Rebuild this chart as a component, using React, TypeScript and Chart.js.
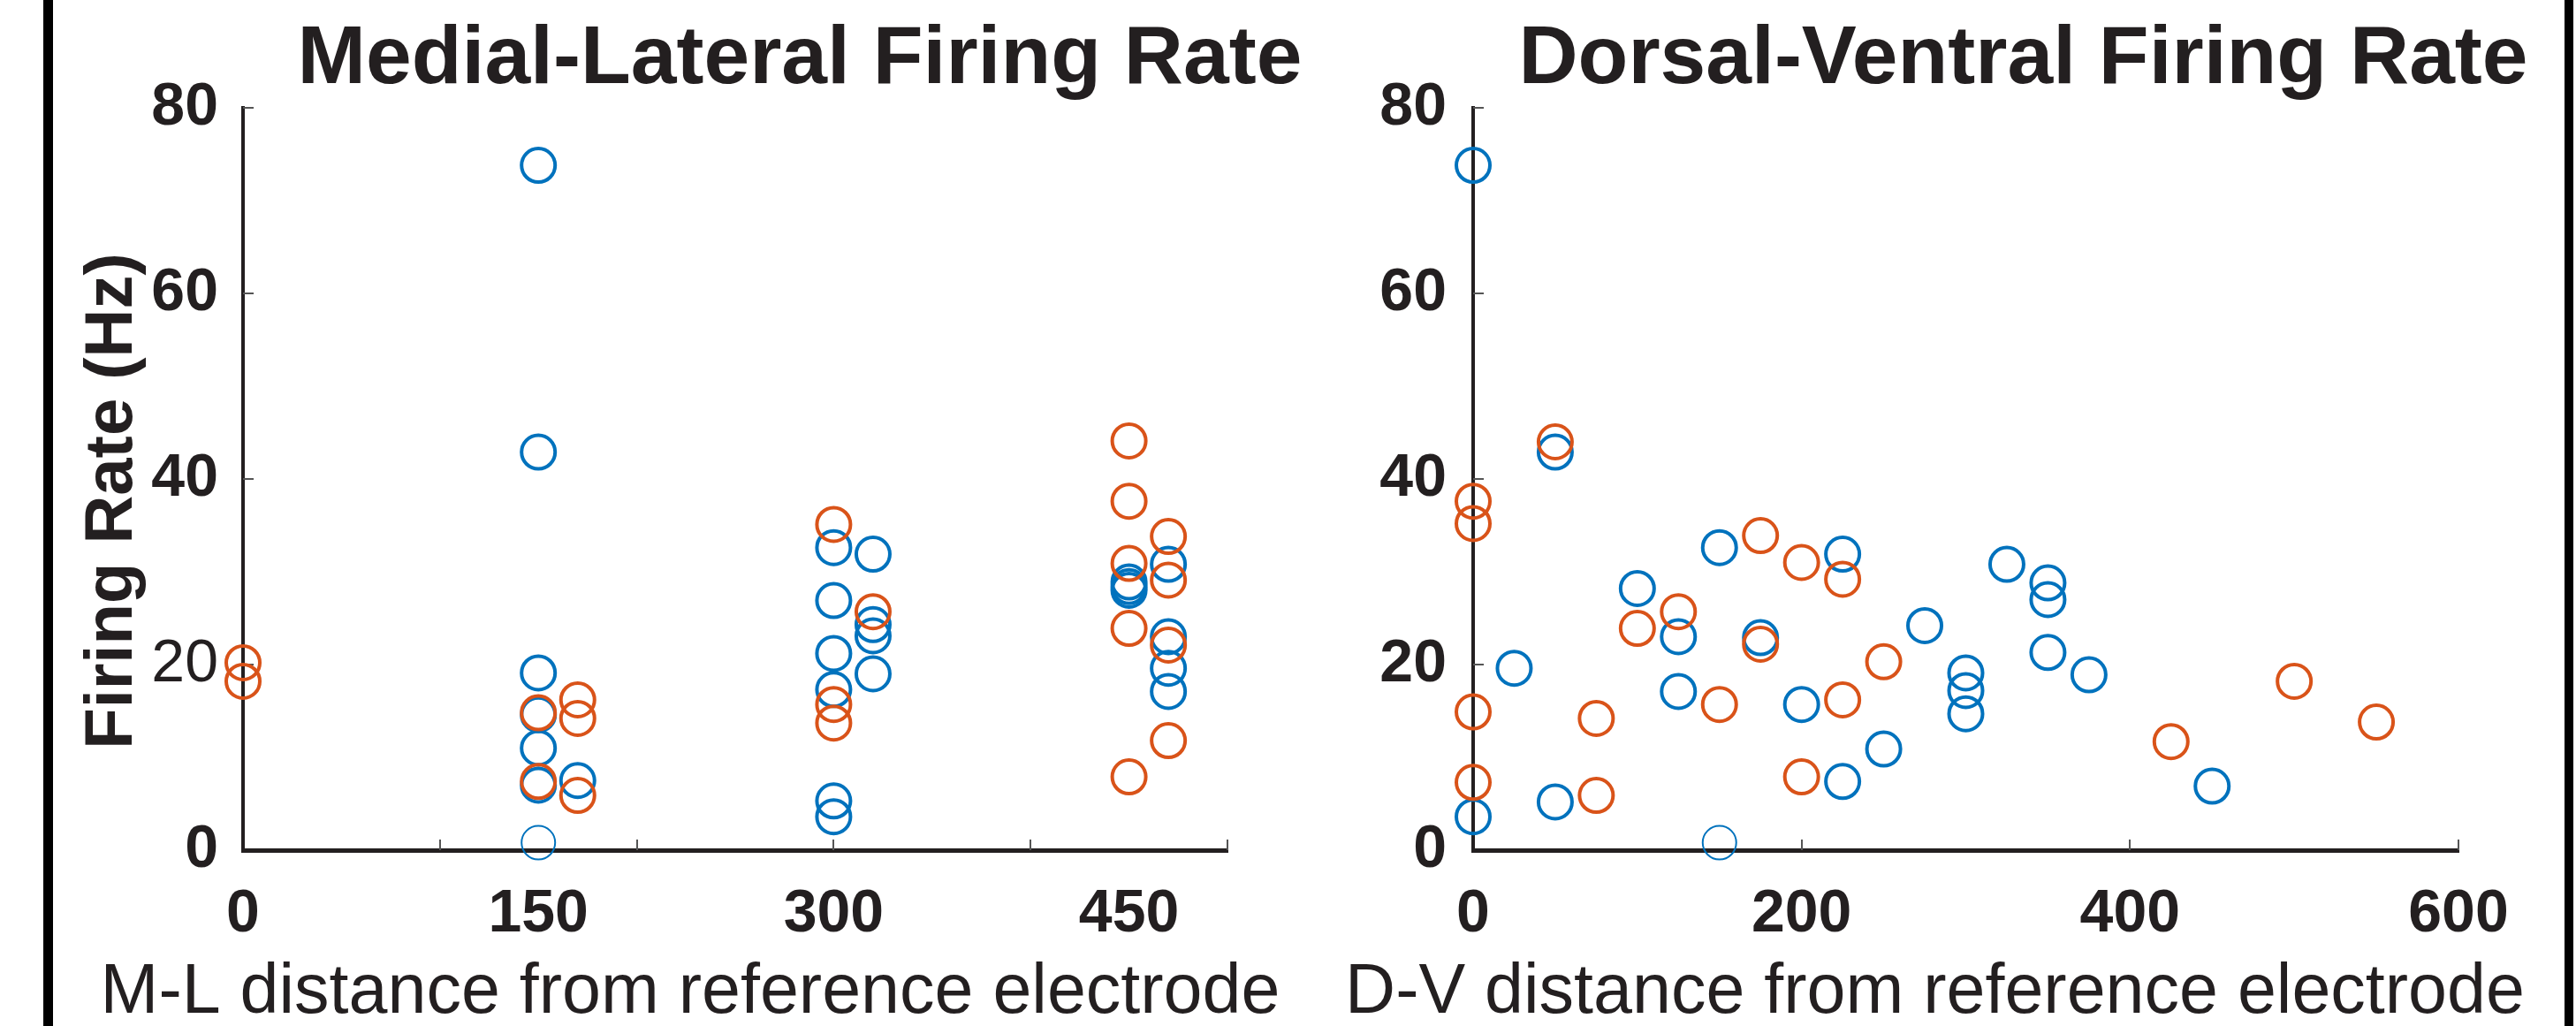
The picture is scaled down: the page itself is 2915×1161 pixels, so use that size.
import React, { useEffect, useRef } from 'react';
import { Chart, registerables } from 'chart.js';

Chart.register(...registerables);

// ---------- data ----------
// Medial-Lateral panel
const mlTickLabels = [0, 150, 300, 450];
const mlTickMarks = [100, 200, 300, 400, 500];
const mlBlueX = [150, 150, 150, 150, 150, 150, 150, 170, 300, 300, 300, 300, 300, 300, 320, 320, 320, 320, 450, 450, 450, 470, 470, 470, 470];
const mlBlueY = [73.8, 42.9, 19.1, 14.6, 11.0, 7.0, 0.8, 7.5, 32.6, 26.9, 21.2, 17.3, 5.3, 3.6, 31.9, 24.3, 23.1, 19.0, 28.9, 28.4, 28.0, 30.8, 23.0, 19.6, 17.1];
const mlOrangeX = [0, 0, 150, 150, 170, 170, 170, 300, 300, 300, 320, 450, 450, 450, 450, 450, 470, 470, 470, 470];
const mlOrangeY = [20.2, 18.2, 14.8, 7.4, 16.2, 14.2, 5.9, 35.1, 15.7, 13.7, 25.7, 44.1, 37.6, 30.9, 23.9, 7.9, 33.8, 29.1, 22.1, 11.8];

// Dorsal-Ventral panel
const dvTickLabels = [0, 200, 400, 600];
const dvTickMarks = [200, 400, 600];
const dvBlueX = [0, 50, 150, 225, 325, 350, 350, 100, 125, 175, 275, 350, 25, 375, 300, 300, 300, 125, 200, 250, 225, 450, 50, 0, 150];
const dvBlueY = [73.8, 42.9, 32.6, 31.9, 30.8, 28.8, 27.0, 28.2, 23.0, 22.9, 24.2, 21.3, 19.6, 18.9, 19.1, 17.2, 14.7, 17.1, 15.7, 10.9, 7.4, 6.9, 5.2, 3.6, 0.8];
const dvOrangeX = [0, 0, 50, 175, 200, 225, 125, 100, 175, 250, 500, 150, 225, 0, 75, 550, 425, 200, 0, 75];
const dvOrangeY = [37.6, 35.2, 44.0, 33.9, 31.0, 29.2, 25.7, 23.9, 22.2, 20.3, 18.2, 15.7, 16.2, 14.9, 14.2, 13.8, 11.7, 7.9, 7.3, 5.9];

const yTickMarks = [20, 40, 60, 80];

const mlTitle = 'Medial-Lateral Firing Rate';
const dvTitle = 'Dorsal-Ventral Firing Rate';
const mlXTitle = 'M-L distance from reference electrode';
const dvXTitle = 'D-V distance from reference electrode';
const yTitle = 'Firing Rate (Hz)';

// ---------- style ----------
const FAMILY = '"Liberation Sans", Arial, Helvetica, sans-serif';
const BLUE = '#0072BD';
const ORANGE = '#D95319';
const INK = '#231F20';

function points(xs: number[], ys: number[]) {
  return xs.map((x, i) => ({ x, y: ys[i] }));
}

const panelDecor = {
  id: 'panelDecor',
  beforeDatasetsDraw(chart: any, _args: any, o: any) {
    const { ctx, chartArea: a, scales } = chart;
    ctx.save();
    ctx.strokeStyle = o.markColor;
    ctx.lineWidth = 2;
    for (const v of o.xMarks) {
      const px = Math.round(scales.x.getPixelForValue(v));
      ctx.beginPath();
      ctx.moveTo(px, a.bottom);
      ctx.lineTo(px, a.bottom - o.markLen);
      ctx.stroke();
    }
    for (const v of o.yMarks) {
      const py = Math.round(scales.y.getPixelForValue(v));
      ctx.beginPath();
      ctx.moveTo(a.left, py);
      ctx.lineTo(a.left + o.markLen, py);
      ctx.stroke();
    }
    ctx.restore();
  },
  afterDraw(chart: any, _args: any, o: any) {
    const { ctx, chartArea: a } = chart;
    const cx = (a.left + a.right) / 2;
    ctx.save();
    ctx.fillStyle = INK;
    ctx.textAlign = 'center';
    ctx.textBaseline = 'alphabetic';
    ctx.font = `bold 93px ${FAMILY}`;
    ctx.fillText(o.title, cx + o.titleDx, o.titleBaseline);
    ctx.font = `79px ${FAMILY}`;
    ctx.fillText(o.xTitle, cx + o.xTitleDx, o.xTitleBaseline);
    if (o.yTitle) {
      ctx.translate(a.left + o.yTitleDx, (a.top + a.bottom) / 2 + o.yTitleDy);
      ctx.rotate(-Math.PI / 2);
      ctx.font = `bold 76px ${FAMILY}`;
      ctx.fillText(o.yTitle, 0, 0);
    }
    ctx.restore();
  },
};

type Panel = {
  blueX: number[]; blueY: number[]; orangeX: number[]; orangeY: number[];
  xMax: number; xTickLabels: number[]; xTickMarks: number[];
  padding: { left: number; right: number; top: number; bottom: number };
  yAxisWidth: number; yPad: number; lightTicks: number[];
  title: string; titleDx: number; xTitle: string; xTitleDx: number; yTitle: string | null;
};

function dataset(label: string, xs: number[], ys: number[], color: string) {
  return {
    label,
    data: points(xs, ys),
    borderColor: color,
    backgroundColor: 'rgba(0,0,0,0)',
    pointStyle: 'circle',
    pointRadius: 19,
    pointHoverRadius: 19,
    pointBackgroundColor: 'rgba(0,0,0,0)',
    pointBorderColor: color,
    pointBorderWidth: (c: any) => (c.raw && c.raw.y < 1 ? 2 : 4),
    pointHoverBorderWidth: 4,
    showLine: false,
    clip: false,
  };
}

function buildChart(canvas: HTMLCanvasElement, p: Panel) {
  const tickFont = (c: any) => ({
    family: FAMILY,
    size: 68,
    weight: c.tick && p.lightTicks.includes(c.tick.value) ? 'normal' : 'bold',
  });
  return new Chart(canvas, {
    type: 'scatter',
    data: {
      datasets: [
        dataset('orange', p.orangeX, p.orangeY, ORANGE),
        dataset('blue', p.blueX, p.blueY, BLUE),
      ] as any,
    },
    options: {
      responsive: false,
      animation: false,
      events: [],
      layout: { autoPadding: false, padding: p.padding },
      plugins: {
        legend: { display: false },
        tooltip: { enabled: false },
        panelDecor: {
          title: p.title,
          titleDx: p.titleDx,
          titleBaseline: 94,
          xTitle: p.xTitle,
          xTitleDx: p.xTitleDx,
          xTitleBaseline: 1146,
          yTitle: p.yTitle,
          yTitleDx: -126,
          yTitleDy: 25,
          xMarks: p.xTickMarks,
          yMarks: yTickMarks,
          markLen: 12,
          markColor: '#555555',
        },
      } as any,
      scales: {
        x: {
          type: 'linear',
          min: 0,
          max: p.xMax,
          afterBuildTicks: (s: any) => {
            s.ticks = p.xTickLabels.map((v) => ({ value: v }));
          },
          afterFit: (s: any) => {
            s.height = 150;
          },
          grid: { display: true, drawOnChartArea: false, drawTicks: false },
          border: { display: true, width: 5, color: INK },
          ticks: {
            autoSkip: false,
            maxRotation: 0,
            minRotation: 0,
            padding: 32,
            color: INK,
            font: { family: FAMILY, size: 68, weight: 'bold' },
            callback: (v: any) => String(v),
          },
        },
        y: {
          type: 'linear',
          min: 0,
          max: 80,
          afterFit: (s: any) => {
            s.width = p.yAxisWidth;
          },
          grid: { display: true, drawOnChartArea: false, drawTicks: false },
          border: { display: true, width: 4, color: INK },
          ticks: {
            stepSize: 20,
            padding: p.yPad,
            color: INK,
            font: tickFont as any,
          },
        },
      } as any,
    },
    plugins: [panelDecor as any],
  });
}

const mlPanel: Panel = {
  blueX: mlBlueX, blueY: mlBlueY, orangeX: mlOrangeX, orangeY: mlOrangeY,
  xMax: 500, xTickLabels: mlTickLabels, xTickMarks: mlTickMarks,
  padding: { left: 75, right: 111, top: 122, bottom: 49 },
  yAxisWidth: 200, yPad: 28, lightTicks: [20],
  title: mlTitle, titleDx: 73, xTitle: mlXTitle, xTitleDx: -51, yTitle: yTitle,
};

const dvPanel: Panel = {
  blueX: dvBlueX, blueY: dvBlueY, orangeX: dvOrangeX, orangeY: dvOrangeY,
  xMax: 600, xTickLabels: dvTickLabels, xTickMarks: dvTickMarks,
  padding: { left: 47, right: 133, top: 122, bottom: 49 },
  yAxisWidth: 120, yPad: 30, lightTicks: [],
  title: dvTitle, titleDx: 65, xTitle: dvXTitle, xTitleDx: -35, yTitle: null,
};

export default function App() {
  const leftRef = useRef<HTMLCanvasElement | null>(null);
  const rightRef = useRef<HTMLCanvasElement | null>(null);

  useEffect(() => {
    const charts: Chart[] = [];
    if (leftRef.current) charts.push(buildChart(leftRef.current, mlPanel));
    if (rightRef.current) charts.push(buildChart(rightRef.current, dvPanel));
    return () => charts.forEach((c) => c.destroy());
  }, []);

  return (
    <div
      style={{
        position: 'absolute',
        left: 0,
        top: 0,
        width: 2915,
        height: 1161,
        background: '#ffffff',
        overflow: 'hidden',
      }}
    >
      <canvas
        ref={leftRef}
        width={1500}
        height={1161}
        style={{ position: 'absolute', left: 0, top: 0, width: 1500, height: 1161 }}
      />
      <canvas
        ref={rightRef}
        width={1415}
        height={1161}
        style={{ position: 'absolute', left: 1500, top: 0, width: 1415, height: 1161 }}
      />
      <div style={{ position: 'absolute', left: 49, top: 0, width: 11, height: 1161, background: '#000' }} />
      <div style={{ position: 'absolute', left: 2902, top: 0, width: 10, height: 1161, background: '#000' }} />
    </div>
  );
}
